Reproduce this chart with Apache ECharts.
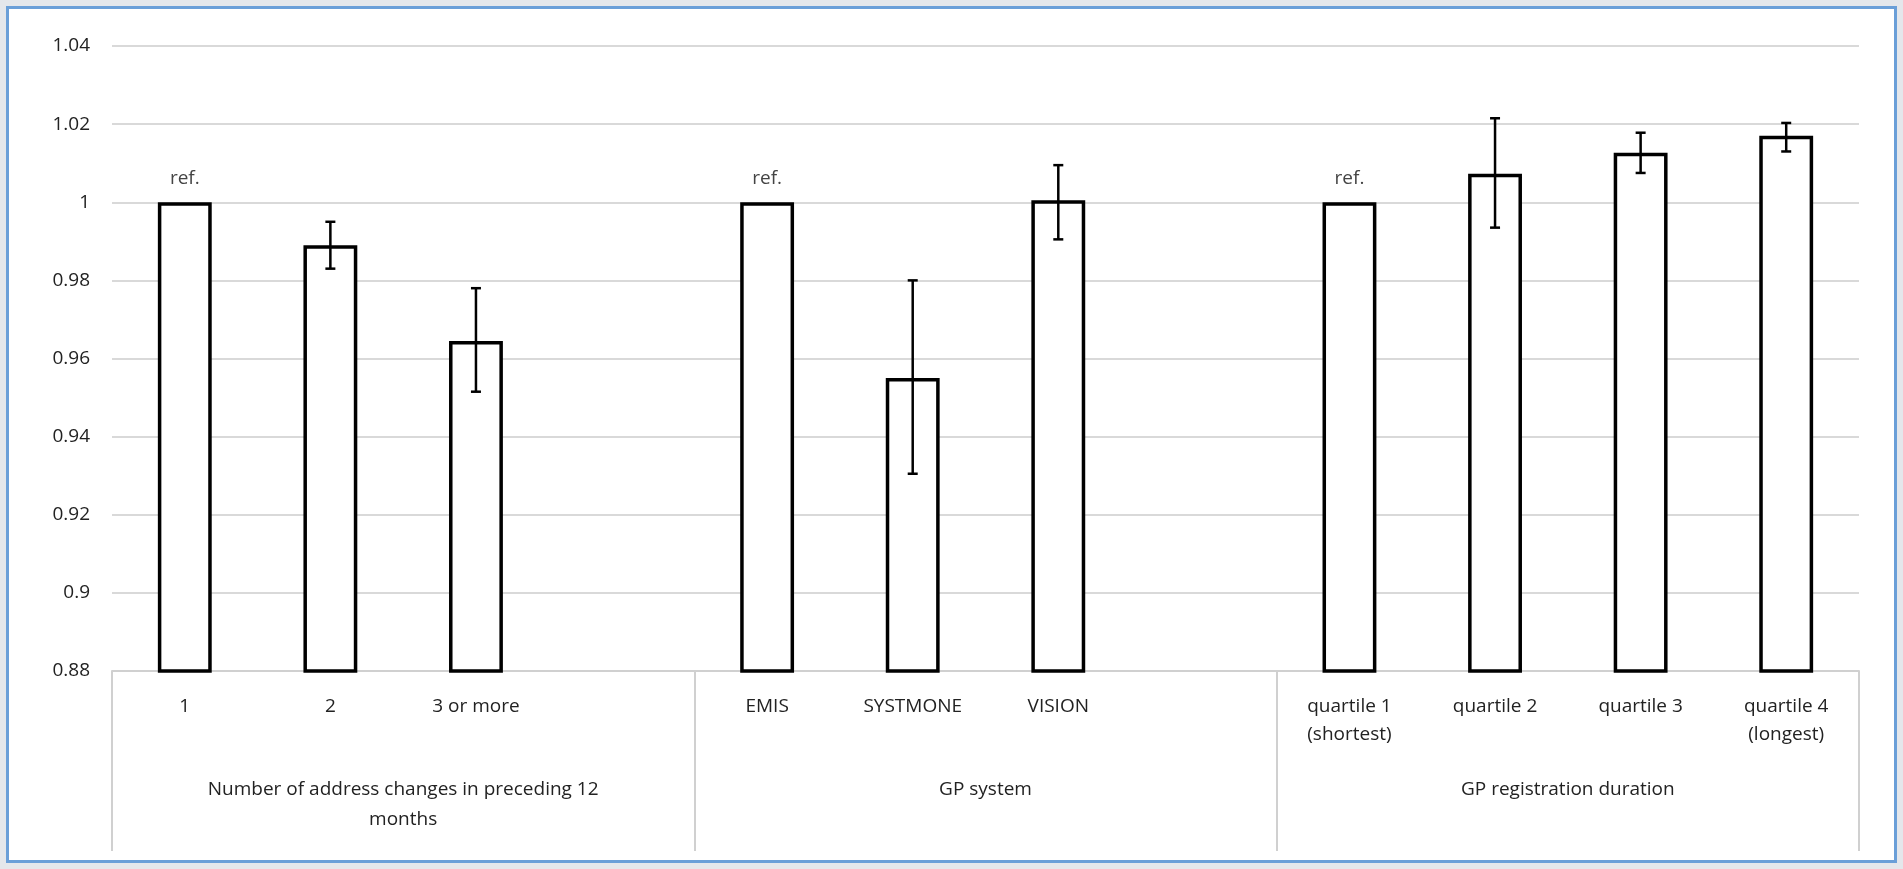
<!DOCTYPE html>
<html>
<head>
<meta charset="utf-8">
<script src="https://cdn.jsdelivr.net/npm/echarts@6/dist/echarts.min.js"></script>
<style>
  html, body { margin: 0; padding: 0; background: #e4e7eb; }
  #frame { position: absolute; left: 6px; top: 6px; width: 1885px; height: 851px;
           border: 3px solid #6a9fd8; background: #fff; }
  #chart { width: 100%; height: 100%; }
</style>
</head>
<body>
<div id="frame"><div id="chart"></div></div>
<script>
  // categories (blank slots keep the groups apart)
  var categories = ["1", "2", "3 or more", "", "EMIS", "SYSTMONE", "VISION", "",
                    "quartile 1\n(shortest)", "quartile 2", "quartile 3", "quartile 4\n(longest)"];
  var groups = ["Number of address changes in preceding 12\nmonths", "GP system", "GP registration duration"];
  var values = [1, 0.989, 0.9645, null, 1, 0.955, 1.0005, null, 1, 1.0073, 1.0127, 1.017];
  var lower  = [null, 0.983, 0.9515, null, null, 0.9305, 0.9905, null, null, 0.9935, 1.0075, 1.013];
  var upper  = [null, 0.995, 0.978, null, null, 0.980, 1.0095, null, null, 1.0215, 1.0178, 1.0203];
  var refFlags = [true, false, false, false, true, false, false, false, true, false, false, false];

  var font = "'Liberation Sans Narrow', 'Open Sans', sans-serif";
  var chart = echarts.init(document.getElementById("chart"));

  var errData = [];
  for (var i = 0; i < values.length; i++) {
    if (lower[i] != null) errData.push([i, lower[i], upper[i]]);
  }

  chart.setOption({
    animation: false,
    grid: { left: 103, right: 35, top: 37, bottom: 189 },
    xAxis: [
      {
        type: "category", data: categories, position: "bottom",
        axisLine: { lineStyle: { color: "#d0d0d0", width: 2 } },
        axisTick: { show: false },
        axisLabel: { interval: 0, color: "#222", fontFamily: font, fontSize: 19, margin: 22, lineHeight: 28 }
      },
      {
        type: "category", data: groups, position: "bottom",
        axisLine: { show: false },
        axisTick: { show: true, length: 180, lineStyle: { color: "#d0d0d0", width: 2 } },
        axisLabel: { interval: 0, color: "#222", fontFamily: font, fontSize: 19, margin: 104, lineHeight: 30 }
      }
    ],
    yAxis: {
      type: "value", min: 0.88, max: 1.04, interval: 0.02,
      axisLine: { show: false }, axisTick: { show: false },
      splitLine: { lineStyle: { color: "#d9d9d9", width: 2 } },
      axisLabel: { color: "#222", fontFamily: font, fontSize: 19, margin: 22,
                   formatter: function (v) { return String(+v.toFixed(2)); } }
    },
    series: [
      {
        type: "bar", xAxisIndex: 0, barWidth: "37%",
        data: values.map(function (v, i) {
          return {
            value: v,
            label: { show: refFlags[i], position: "top", distance: 14, formatter: "ref.",
                     color: "#444", fontFamily: font, fontSize: 19 }
          };
        }),
        itemStyle: { color: "#fff", borderColor: "#000", borderWidth: 3.5 }
      },
      {
        type: "custom", xAxisIndex: 0, z: 5, data: errData,
        renderItem: function (params, api) {
          var lo = api.coord([api.value(0), api.value(1)]);
          var hi = api.coord([api.value(0), api.value(2)]);
          var hw = 5;
          var st = { stroke: "#000", lineWidth: 2.5 };
          return {
            type: "group",
            children: [
              { type: "line", shape: { x1: lo[0], y1: lo[1], x2: hi[0], y2: hi[1] }, style: st },
              { type: "line", shape: { x1: lo[0] - hw, y1: lo[1], x2: lo[0] + hw, y2: lo[1] }, style: st },
              { type: "line", shape: { x1: hi[0] - hw, y1: hi[1], x2: hi[0] + hw, y2: hi[1] }, style: st }
            ]
          };
        }
      }
    ]
  });

  window.addEventListener("resize", function () { chart.resize(); });
</script>
</body>
</html>
